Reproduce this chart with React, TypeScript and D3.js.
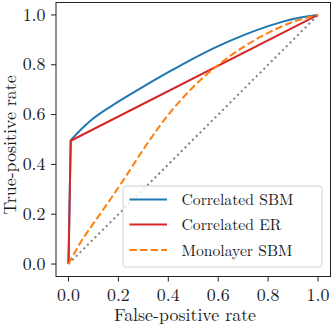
import React from "react";
import * as d3 from "d3";

const xTicks = [0, 0.2, 0.4, 0.6, 0.8, 1.0];
const yTicks = [0, 0.2, 0.4, 0.6, 0.8, 1.0];

const sbmFpr = [0, 0.009, 0.05, 0.1, 0.2, 0.3, 0.4, 0.5, 0.6, 0.7, 0.8, 0.9, 1.0];
const sbmTpr = [0, 0.497, 0.54, 0.585, 0.652, 0.712, 0.77, 0.825, 0.875, 0.918, 0.955, 0.984, 1.0];

const erFpr = [0, 0.009, 1.0];
const erTpr = [0, 0.495, 1.0];

const monoFpr = [0, 0.046, 0.1, 0.166, 0.233, 0.3, 0.366, 0.5, 0.606, 0.7, 0.806, 0.9, 1.0];
const monoTpr = [0, 0.083, 0.163, 0.257, 0.357, 0.46, 0.555, 0.711, 0.804, 0.871, 0.931, 0.972, 1.0];

const chanceFpr = [0, 1];
const chanceTpr = [0, 1];

const seriesNames = ["Correlated SBM", "Correlated ER", "Monolayer SBM"];

const W = 332, H = 327;
const L = 56, R = 330.5, T = 2.5, B = 276.5;
const FONT = "'Latin Modern Roman', 'Liberation Serif', serif";

export default function App() {
  const x = d3.scaleLinear().domain([-0.05, 1.05]).range([L, R]);
  const y = d3.scaleLinear().domain([-0.05, 1.05]).range([B, T]);
  const line = (xs: number[], ys: number[], curve: d3.CurveFactory = d3.curveLinear) =>
    d3.line<number>().x((_, i) => x(xs[i])).y((_, i) => y(ys[i])).curve(curve)(xs.map((_, i) => i)) || "";

  const series = [
    { name: seriesNames[0], color: "#1f77b4", dash: "", d: line(sbmFpr.slice(1), sbmTpr.slice(1), d3.curveMonotoneX) },
    { name: seriesNames[1], color: "#d62728", dash: "", d: line(erFpr, erTpr) },
    { name: seriesNames[2], color: "#ff7f0e", dash: "7.4,3.2", d: line(monoFpr, monoTpr, d3.curveMonotoneX) },
  ];
  const sbmStart = line(sbmFpr.slice(0, 2), sbmTpr.slice(0, 2));

  const legX = 123, legY = 186, legW = 199, legH = 81;
  const rowY = [199.5, 224.5, 250];
  const txt = { fontFamily: FONT, fontSize: 17.9, fill: "#1a1a1a" } as const;
  const legTxt = { fontFamily: FONT, fontSize: 15.7, fill: "#1a1a1a" } as const;

  return (
    <svg width={W} height={H} style={{ position: "absolute", left: 0, top: 0, background: "#fff" }}>
      <defs>
        <clipPath id="plotclip"><rect x={L} y={T} width={R - L} height={B - T} /></clipPath>
      </defs>
      <g clipPath="url(#plotclip)">
        <path d={line(chanceFpr, chanceTpr)} fill="none" stroke="#7f7f7f" strokeWidth={2} strokeDasharray="2,3.3" />
        <path d={sbmStart} fill="none" stroke="#1f77b4" strokeWidth={2} />
        {series.map((s) => (
          <path key={s.name} d={s.d} fill="none" stroke={s.color} strokeWidth={2} strokeDasharray={s.dash || undefined} strokeLinejoin="round" />
        ))}
      </g>
      <rect x={L} y={T} width={R - L} height={B - T} fill="none" stroke="#222" strokeWidth={1} />
      {xTicks.map((t) => (
        <g key={"x" + t}>
          <line x1={x(t)} x2={x(t)} y1={B} y2={B + 5} stroke="#222" strokeWidth={1} />
          <text x={x(t)} y={300.5} textAnchor="middle" style={txt}>{t.toFixed(1)}</text>
        </g>
      ))}
      {yTicks.map((t) => (
        <g key={"y" + t}>
          <line x1={L - 5} x2={L} y1={y(t)} y2={y(t)} stroke="#222" strokeWidth={1} />
          <text x={45.5} y={y(t) + 5.7} textAnchor="end" style={txt}>{t.toFixed(1)}</text>
        </g>
      ))}
      <text x={185} y={320.5} textAnchor="middle" style={txt}>False-positive rate</text>
      <text transform={`translate(15.5,145) rotate(-90)`} textAnchor="middle" style={txt}>True-positive rate</text>
      <rect x={legX} y={legY} width={legW} height={legH} rx={3} fill="#fff" fillOpacity={0.8} stroke="#d0d0d0" strokeWidth={1} />
      {series.map((s, i) => (
        <g key={"leg" + s.name}>
          <line x1={129.5} x2={167} y1={rowY[i]} y2={rowY[i]} stroke={s.color} strokeWidth={2} strokeDasharray={s.dash || undefined} />
          <text x={181.5} y={rowY[i] + 5.5} style={legTxt}>{s.name}</text>
        </g>
      ))}
    </svg>
  );
}
